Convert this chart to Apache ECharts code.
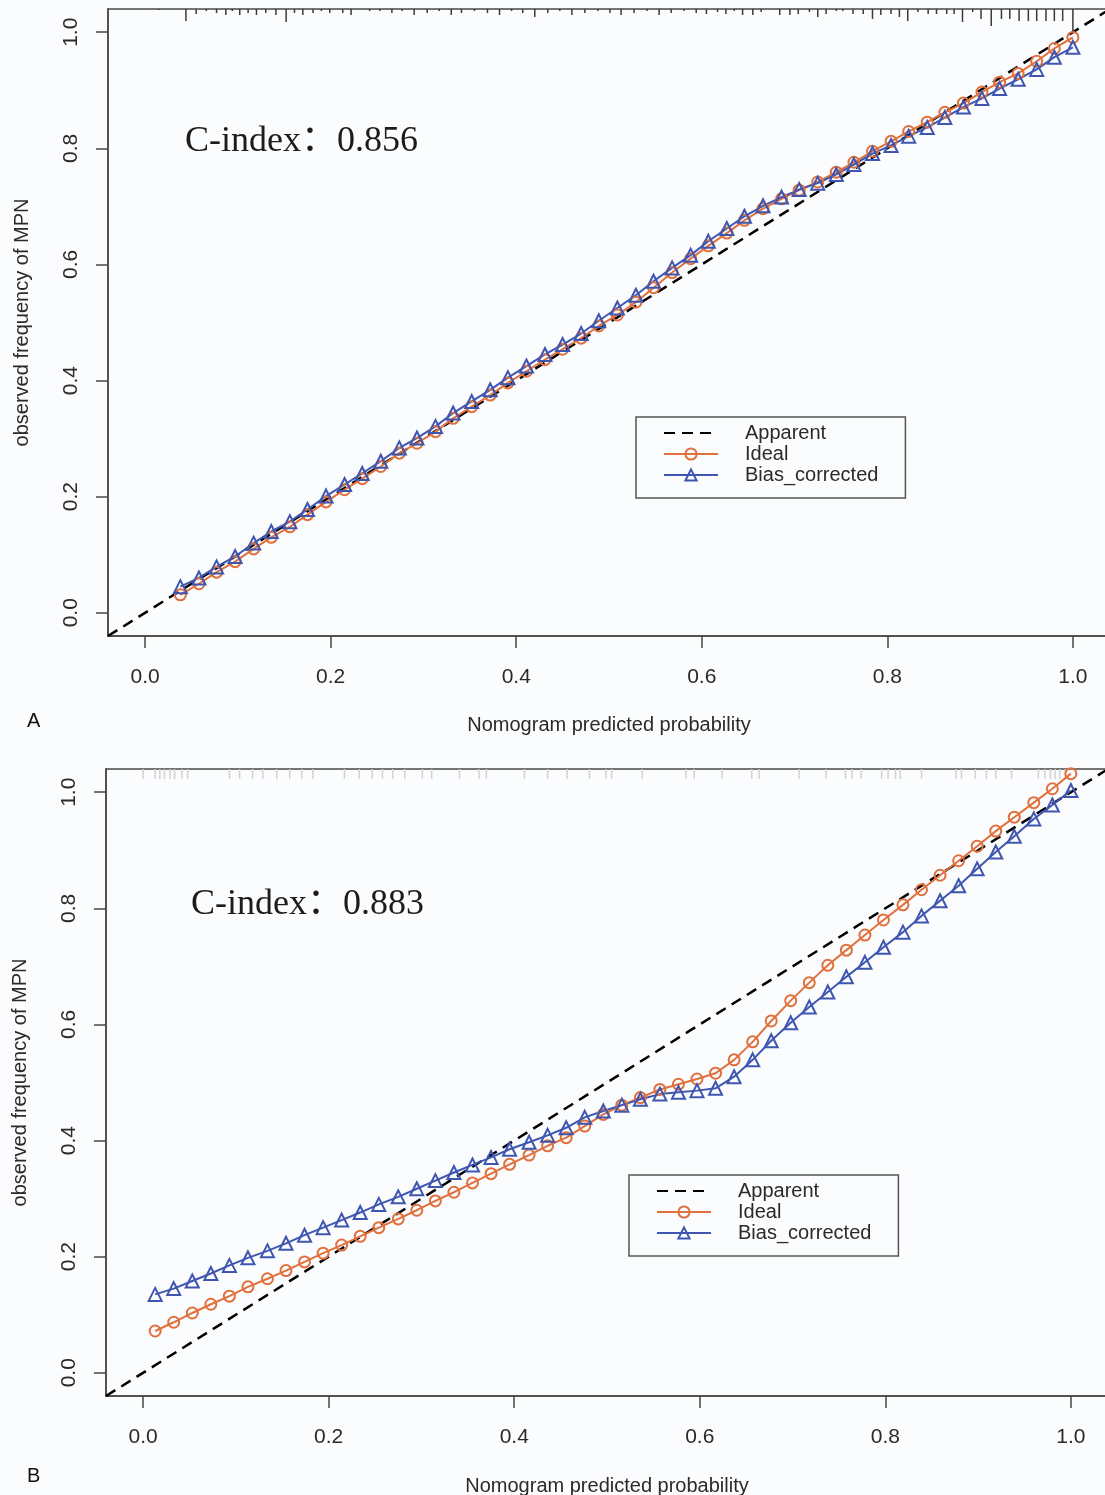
<!DOCTYPE html>
<html>
<head>
<meta charset="utf-8">
<script src="https://cdn.jsdelivr.net/npm/echarts@6.0.0/dist/echarts.min.js"></script>
<style>
  html, body { margin: 0; padding: 0; background: #fbfcfe; }
  #chartA { position: absolute; left: 0; top: 0; width: 1105px; height: 748px; }
  #chartB { position: absolute; left: 0; top: 748px; width: 1105px; height: 747px; }
</style>
</head>
<body>
<div id="chartA"></div>
<div id="chartB"></div>
<script>
// tick labels shared by both panels
const tickValues = [0, 0.2, 0.4, 0.6, 0.8, 1.0]
// diagonal reference (y = x)
const apparentLine = [-0.04, 1.04]

// ---- panel A ----
const xA = [0.038, 0.058, 0.077, 0.097, 0.117, 0.136, 0.156, 0.175, 0.195, 0.215,
  0.234, 0.254, 0.274, 0.293, 0.313, 0.332, 0.352, 0.372, 0.391, 0.411,
  0.431, 0.450, 0.470, 0.489, 0.509, 0.529, 0.548, 0.568, 0.588, 0.607,
  0.627, 0.646, 0.666, 0.686, 0.705, 0.725, 0.745, 0.764, 0.784, 0.804,
  0.823, 0.843, 0.862, 0.882, 0.902, 0.921, 0.941, 0.961, 0.980, 1.000]
const idealA = [0.031, 0.050, 0.070, 0.088, 0.110, 0.130, 0.148, 0.169, 0.191, 0.212,
  0.231, 0.252, 0.275, 0.292, 0.312, 0.335, 0.355, 0.375, 0.396, 0.416,
  0.436, 0.454, 0.473, 0.494, 0.513, 0.535, 0.560, 0.586, 0.610, 0.632,
  0.654, 0.676, 0.696, 0.713, 0.728, 0.742, 0.759, 0.776, 0.795, 0.812,
  0.829, 0.845, 0.862, 0.878, 0.897, 0.914, 0.929, 0.950, 0.972, 0.991]
const biasA = [0.045, 0.060, 0.079, 0.097, 0.120, 0.140, 0.157, 0.178, 0.201, 0.221,
  0.240, 0.261, 0.284, 0.301, 0.321, 0.344, 0.364, 0.384, 0.405, 0.425,
  0.445, 0.462, 0.481, 0.503, 0.525, 0.547, 0.571, 0.594, 0.616, 0.640,
  0.662, 0.683, 0.701, 0.716, 0.729, 0.740, 0.755, 0.772, 0.791, 0.805,
  0.821, 0.836, 0.853, 0.871, 0.886, 0.903, 0.919, 0.936, 0.957, 0.974]
// distribution of predicted risk (spikes along the top)
const rugAX = [0.015, 0.044, 0.055, 0.066, 0.077, 0.087, 0.094, 0.102, 0.111, 0.120,
  0.130, 0.141, 0.152, 0.161, 0.170, 0.181, 0.190, 0.199, 0.213, 0.222,
  0.242, 0.253, 0.266, 0.277, 0.290, 0.304, 0.317, 0.330, 0.341, 0.355,
  0.369, 0.382, 0.395, 0.407, 0.420, 0.434, 0.447, 0.460, 0.474, 0.488,
  0.501, 0.513, 0.527, 0.541, 0.554, 0.567, 0.581, 0.594, 0.605, 0.617,
  0.626, 0.635, 0.644, 0.655, 0.664, 0.684, 0.695, 0.704, 0.716, 0.725,
  0.734, 0.745, 0.752, 0.763, 0.774, 0.784, 0.793, 0.804, 0.813, 0.822,
  0.833, 0.844, 0.853, 0.864, 0.872, 0.881, 0.892, 0.901, 0.912, 0.923,
  0.932, 0.942, 0.952, 0.961, 0.971, 0.980, 0.989, 1.000]
const rugAFreq = [1, 12, 5, 2, 4, 6, 2, 6, 4, 6,
  4, 6, 13, 4, 6, 4, 2, 4, 4, 6,
  2, 2, 4, 2, 6, 4, 2, 6, 4, 2,
  4, 6, 2, 4, 8, 4, 2, 6, 4, 2,
  4, 6, 4, 2, 6, 4, 2, 4, 5, 3,
  5, 2, 6, 6, 3, 6, 6, 5, 3, 8,
  5, 2, 2, 5, 5, 10, 6, 5, 8, 12,
  3, 5, 5, 5, 5, 13, 3, 10, 17, 10,
  10, 12, 12, 12, 12, 12, 12, 23]

// ---- panel B ----
const xB = [0.013, 0.033, 0.053, 0.073, 0.093, 0.113, 0.134, 0.154, 0.174, 0.194,
  0.214, 0.234, 0.254, 0.275, 0.295, 0.315, 0.335, 0.355, 0.375, 0.395,
  0.416, 0.436, 0.456, 0.476, 0.496, 0.516, 0.536, 0.557, 0.577, 0.597,
  0.617, 0.637, 0.657, 0.677, 0.698, 0.718, 0.738, 0.758, 0.778, 0.798,
  0.819, 0.839, 0.859, 0.879, 0.899, 0.919, 0.939, 0.960, 0.980, 1.000]
const idealB = [0.072, 0.087, 0.103, 0.118, 0.132, 0.148, 0.162, 0.176, 0.191, 0.206,
  0.220, 0.235, 0.250, 0.265, 0.280, 0.296, 0.311, 0.327, 0.343, 0.359,
  0.375, 0.391, 0.405, 0.425, 0.445, 0.461, 0.474, 0.488, 0.497, 0.506,
  0.516, 0.539, 0.570, 0.606, 0.641, 0.672, 0.702, 0.728, 0.754, 0.780,
  0.806, 0.832, 0.857, 0.882, 0.907, 0.933, 0.957, 0.982, 1.006, 1.032]
const biasB = [0.135, 0.145, 0.158, 0.171, 0.185, 0.198, 0.210, 0.223, 0.237, 0.250,
  0.263, 0.276, 0.290, 0.303, 0.317, 0.331, 0.345, 0.358, 0.371, 0.385,
  0.397, 0.409, 0.422, 0.440, 0.451, 0.461, 0.471, 0.480, 0.483, 0.486,
  0.490, 0.510, 0.539, 0.572, 0.603, 0.630, 0.656, 0.682, 0.707, 0.733,
  0.759, 0.787, 0.813, 0.839, 0.868, 0.897, 0.924, 0.954, 0.978, 1.003]
const rugBX = [0.000, 0.013, 0.018, 0.023, 0.029, 0.034, 0.042, 0.048, 0.093, 0.104,
  0.118, 0.129, 0.144, 0.158, 0.171, 0.183, 0.217, 0.233, 0.247, 0.258,
  0.269, 0.282, 0.301, 0.311, 0.341, 0.362, 0.370, 0.411, 0.436, 0.457,
  0.481, 0.499, 0.505, 0.538, 0.585, 0.594, 0.624, 0.656, 0.664, 0.707,
  0.736, 0.757, 0.764, 0.774, 0.796, 0.803, 0.811, 0.816, 0.839, 0.876,
  0.882, 0.897, 0.909, 0.919, 0.936, 0.965, 0.972, 0.978, 0.983, 0.988, 0.994]
const rugBFreq = rugBX.map(() => 10)

const ORANGE = '#e0703c'
const BLUE = '#3f56b0'
const AXIS = '#474747'
const TEXT = '#2a2a2a'
const SANS = "'Liberation Sans', Arial, sans-serif"
const SERIF = "'Liberation Serif', 'Noto Sans CJK SC', serif"

const zip = (xs, ys) => xs.map((x, i) => [x, ys[i]])
const fmt = v => v.toFixed(1)

function makeOption(p) {
  const tickStyle = { color: AXIS, width: 1.5 }
  return {
    animation: false,
    grid: {
      left: p.left, top: p.top, width: 1002, height: 627,
      outerBoundsMode: 'none',
      show: true, borderColor: AXIS, borderWidth: 1.5,
    },
    xAxis: {
      type: 'value', min: -0.04, max: 1.04,
      name: 'Nomogram predicted probability', nameLocation: 'middle', nameGap: p.xNameGap,
      nameTextStyle: { fontFamily: SANS, fontSize: 20, color: TEXT },
      axisLine: { show: true, onZero: false, lineStyle: tickStyle },
      axisTick: { show: true, length: 12, customValues: tickValues, lineStyle: tickStyle },
      axisLabel: { customValues: tickValues, formatter: fmt, margin: 31, fontFamily: SANS, fontSize: 21, color: TEXT },
      splitLine: { show: false },
    },
    yAxis: {
      type: 'value', min: -0.04, max: 1.04,
      name: 'observed frequency of MPN', nameLocation: 'middle', nameGap: 76, nameRotate: 90,
      nameTextStyle: { fontFamily: SANS, fontSize: 20, color: TEXT },
      axisLine: { show: true, onZero: false, lineStyle: tickStyle },
      axisTick: { show: true, length: 12, customValues: tickValues, lineStyle: tickStyle },
      axisLabel: { customValues: tickValues, formatter: fmt, rotate: 90, margin: 26, fontFamily: SANS, fontSize: 21, color: TEXT },
      splitLine: { show: false },
    },
    legend: {
      orient: 'vertical', left: p.legendLeft, top: p.legendTop,
      data: [
        { name: 'Apparent', itemStyle: { opacity: 0 } },
        'Ideal',
        'Bias_corrected',
      ],
      itemWidth: 54, itemHeight: 14, itemGap: 1,
      padding: [6, 27, 13, 27],
      borderColor: '#555', borderWidth: 1.5,
      selectedMode: false,
      textStyle: { fontFamily: SANS, fontSize: 20, lineHeight: 20, color: TEXT, padding: [0, 0, 0, 22] },
    },
    graphic: [
      { type: 'text', left: p.cLeft, top: p.cTop, style: { text: p.cText, font: `36px ${SERIF}`, fill: '#1c1c1c' } },
      { type: 'text', left: 27, top: p.letterTop, style: { text: p.letter, font: `20px ${SANS}`, fill: '#111' } },
    ],
    series: [
      {
        name: 'rug', type: 'custom', silent: true,
        data: zip(p.rugX, p.rugF),
        renderItem(params, api) {
          const pt = api.coord([api.value(0), 1.04])
          return {
            type: 'line',
            shape: { x1: pt[0], y1: pt[1], x2: pt[0], y2: pt[1] + api.value(1) },
            style: { stroke: p.rugColor, lineWidth: 1.5 },
          }
        },
      },
      {
        name: 'Apparent', type: 'line', data: zip(apparentLine, apparentLine),
        symbol: 'none', lineStyle: { color: '#000', width: 2.5, type: [11, 7] },
        itemStyle: { color: '#000' },
      },
      {
        name: 'Ideal', type: 'line', data: zip(p.x, p.ideal),
        symbol: 'circle', symbolSize: 11,
        lineStyle: { color: ORANGE, width: 2 },
        itemStyle: { color: 'rgba(0,0,0,0)', borderColor: ORANGE, borderWidth: 2 },
      },
      {
        name: 'Bias_corrected', type: 'line', data: zip(p.x, p.bias),
        symbol: 'triangle', symbolSize: 13,
        lineStyle: { color: BLUE, width: 2 },
        itemStyle: { color: 'rgba(0,0,0,0)', borderColor: BLUE, borderWidth: 2 },
      },
    ],
  }
}

const chartA = echarts.init(document.getElementById('chartA'))
chartA.setOption(makeOption({
  left: 108, top: 9, legendLeft: 636, legendTop: 417, xNameGap: 79,
  cLeft: 185, cTop: 124, cText: 'C-index：0.856', letter: 'A', letterTop: 711,
  x: xA, ideal: idealA, bias: biasA, rugX: rugAX, rugF: rugAFreq, rugColor: '#3a3a3a',
}))

const chartB = echarts.init(document.getElementById('chartB'))
chartB.setOption(makeOption({
  left: 106, top: 21, legendLeft: 629, legendTop: 427, xNameGap: 80,
  cLeft: 191, cTop: 139, cText: 'C-index：0.883', letter: 'B', letterTop: 718,
  x: xB, ideal: idealB, bias: biasB, rugX: rugBX, rugF: rugBFreq, rugColor: '#d2d2d2',
}))
</script>
</body>
</html>
